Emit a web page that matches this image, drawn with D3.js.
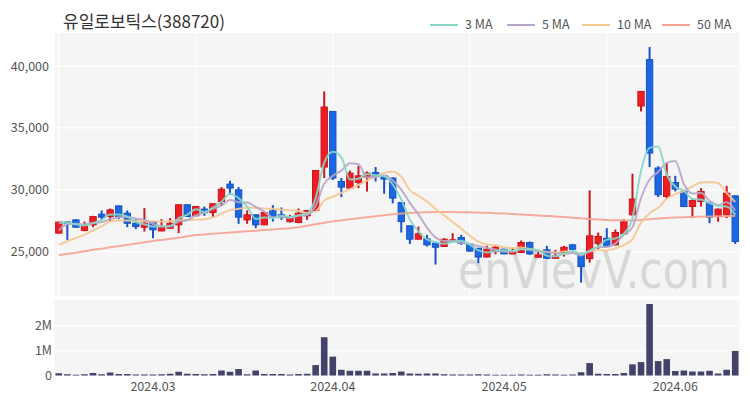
<!DOCTYPE html>
<html>
<head>
<meta charset="UTF-8">
<title>유일로보틱스(388720)</title>
<script src="https://d3js.org/d3.v7.min.js"></script>
<style>
    body { margin: 0; background: #fff; }
    svg text { font-family: "Noto Sans CJK KR", "Noto Sans", sans-serif; }
    .axis text { fill: #555; font-size: 12.5px; }
    .axis path, .axis line { display: none; }
    .grid line { stroke: #fff; stroke-width: 1.2px; }
    .legend text { fill: #555; font-size: 12.5px; }
</style>
</head>
<body>
<div id="chart"></div>
<script>
// trading days shown
const dates = [
  "2024-02-15","2024-02-16","2024-02-19","2024-02-20","2024-02-21","2024-02-22","2024-02-23","2024-02-26","2024-02-27","2024-02-28",
  "2024-02-29","2024-03-04","2024-03-05","2024-03-06","2024-03-07","2024-03-08","2024-03-11","2024-03-12","2024-03-13","2024-03-14",
  "2024-03-15","2024-03-18","2024-03-19","2024-03-20","2024-03-21","2024-03-22","2024-03-25","2024-03-26","2024-03-27","2024-03-28",
  "2024-03-29","2024-04-01","2024-04-02","2024-04-03","2024-04-04","2024-04-05","2024-04-08","2024-04-09","2024-04-11","2024-04-12",
  "2024-04-15","2024-04-16","2024-04-17","2024-04-18","2024-04-19","2024-04-22","2024-04-23","2024-04-24","2024-04-25","2024-04-26",
  "2024-04-29","2024-04-30","2024-05-02","2024-05-03","2024-05-07","2024-05-08","2024-05-09","2024-05-10","2024-05-13","2024-05-14",
  "2024-05-16","2024-05-17","2024-05-20","2024-05-21","2024-05-22","2024-05-23","2024-05-24","2024-05-27","2024-05-28","2024-05-29",
  "2024-05-30","2024-05-31","2024-06-03","2024-06-04","2024-06-05","2024-06-07","2024-06-10","2024-06-11","2024-06-12","2024-06-13"
];
const opens = [
  26500,27400,27570,26710,27170,28030,27840,28700,28110,27300,
  26980,27430,26680,26900,27170,28790,27900,28440,28160,29050,
  30460,30000,27570,27980,27170,28300,27980,27430,27360,27900,
  28330,31840,36330,30670,30140,30590,31030,31400,31130,30950,
  28970,27090,26010,26040,25690,25420,25820,26140,25600,25280,
  24570,25010,25200,24820,24930,25740,24550,25150,24470,24930,
  25550,24870,24440,25650,26090,25550,26440,27980,36770,40520,
  31760,29460,30590,29860,28650,29050,28970,27840,27980,29510
];
const highs = [
  27420,27430,27620,27430,27900,28330,28490,28720,28330,27630,
  28520,27450,27630,27710,28800,28820,28700,28650,28880,30220,
  30730,30220,28340,28000,28200,28760,28570,27980,28490,28350,
  31600,37950,36350,30950,31560,31940,31480,31840,31150,31000,
  29000,27100,27030,26360,25700,26090,26500,26360,25650,25300,
  25470,25470,25250,25280,25900,25820,25010,25470,25150,25470,
  25630,24900,29950,26550,26900,26790,27630,31300,37970,41540,
  31900,32210,31130,29880,29250,30140,29000,28490,30320,29550
];
const lows = [
  26470,25950,26950,26650,26980,27570,27430,27630,26980,26820,
  26630,26090,26650,26820,26500,27800,27850,27900,27790,28700,
  29600,27250,27250,26900,27150,27430,27570,27360,27300,27570,
  28300,30950,30800,29410,30100,30140,29860,30670,29680,28900,
  26550,25630,26000,25420,23960,25400,25800,25550,25000,24070,
  24550,24790,24800,24800,24900,24740,24530,24390,24450,24600,
  25150,22500,24110,25230,25360,25500,26360,27900,36330,31840,
  29410,29250,29870,28600,27710,28650,27300,27420,27710,25630
];
const closes = [
  27390,27270,26980,27090,27840,27790,28380,27840,27300,27030,
  27300,26770,27030,27300,28790,27840,28650,28160,28870,30050,
  30140,27790,27980,27170,28160,27790,27790,27840,28110,28330,
  31560,36690,30950,30220,31350,31130,31350,31080,30870,29330,
  27430,26010,26440,25550,25360,26010,25960,25690,25050,24570,
  25200,25360,24820,25010,25740,24820,24740,24470,24660,25360,
  25200,23800,26280,26230,25420,26550,27430,29250,37950,32970,
  29600,31080,30060,28650,29130,29860,27790,28440,29730,25820
];
const volumes = [
  90000,50000,30000,50000,100000,50000,120000,60000,60000,40000,
  40000,40000,50000,70000,150000,70000,60000,50000,60000,200000,
  150000,260000,50000,200000,60000,60000,60000,40000,60000,70000,
  420000,1540000,760000,230000,190000,190000,190000,80000,80000,100000,
  160000,80000,70000,80000,80000,50000,40000,40000,40000,50000,
  40000,30000,30000,30000,40000,30000,30000,50000,40000,30000,
  40000,130000,500000,70000,60000,60000,100000,450000,540000,2880000,
  580000,660000,180000,200000,160000,160000,190000,80000,230000,990000
];
// closes of the 9 sessions before the first one shown (for the short moving averages)
const priorCloses = [24300,24400,24350,24450,24500,24550,26900,27300,27350];
// 50 day average as drawn
const ma50 = [
  24720,24820,24920,25030,25150,25240,25350,25450,25550,25660,
  25760,25870,25950,26040,26130,26240,26340,26390,26440,26500,
  26550,26600,26650,26700,26750,26800,26850,26900,26970,27090,
  27210,27330,27450,27530,27630,27710,27790,27870,27950,28020,
  28080,28130,28160,28180,28200,28200,28200,28190,28180,28160,
  28140,28110,28080,28050,28010,27970,27930,27890,27850,27800,
  27750,27700,27650,27600,27560,27540,27520,27530,27570,27630,
  27680,27720,27760,27790,27810,27830,27850,27860,27880,27900
];
const maNames = ["3 MA", "5 MA", "10 MA", "50 MA"];
const maColors = ["#86d6c6", "#b8a6c8", "#f4c892", "#f6a394"];
const priceTicks = [25000, 30000, 35000, 40000];
const volumeTicks = [0, 1000000, 2000000];
const volumeLabels = ["0", "1M", "2M"];
const monthTicks = ["2024-03-04", "2024-04-02", "2024-05-02", "2024-06-03"];
const monthLabels = ["2024.03", "2024.04", "2024.05", "2024.06"];

const width = 750, height = 400;
const left = 54.5, right = 739.5;
const priceTop = 33, priceBottom = 296;
const volTop = 300, volBottom = 376;

const svg = d3.select("#chart").append("svg")
    .attr("width", width)
    .attr("height", height);

const x = d3.scaleBand().domain(dates).range([left, right]).padding(0);
const cx = d => x(d) + x.bandwidth() / 2;
const yP = d3.scaleLinear().domain([21420, 42670]).range([priceBottom, priceTop]);
const yV = d3.scaleLinear().domain([0, 3040000]).range([volBottom - 0.5, volTop]);

// panel backgrounds
svg.append("rect").attr("x", left).attr("y", priceTop)
    .attr("width", right - left).attr("height", priceBottom - priceTop).attr("fill", "#f5f5f6");
svg.append("rect").attr("x", left).attr("y", volTop)
    .attr("width", right - left).attr("height", volBottom - volTop).attr("fill", "#f5f5f6");

// grid
const gridDates = dates.filter((d, i) => i % 16 === 0);
svg.append("g").attr("class", "grid")
    .selectAll("line").data(gridDates).join("line")
    .attr("x1", cx).attr("x2", cx)
    .attr("y1", priceTop).attr("y2", priceBottom);
svg.append("g").attr("class", "grid")
    .selectAll("line").data(priceTicks).join("line")
    .attr("x1", left).attr("x2", right)
    .attr("y1", d => yP(d)).attr("y2", d => yP(d));
svg.append("g").attr("class", "grid")
    .selectAll("line").data(volumeTicks.slice(1)).join("line")
    .attr("x1", left).attr("x2", right)
    .attr("y1", d => yV(d)).attr("y2", d => yV(d));

// watermark
svg.append("text")
    .attr("x", 458).attr("y", 288)
    .attr("textLength", 272).attr("lengthAdjust", "spacingAndGlyphs")
    .style("font-family", "'DejaVu Sans', sans-serif")
    .style("font-size", "51px")
    .attr("fill", "#d2d2d2")
    .attr("opacity", 0.85)
    .text("enVievV.com");

// axes
svg.append("g").attr("class", "axis")
    .attr("transform", `translate(${left - 0.5},0)`)
    .call(d3.axisLeft(yP).tickValues(priceTicks).tickFormat(d3.format(",")).tickSize(0).tickPadding(5));
svg.append("g").attr("class", "axis")
    .attr("transform", `translate(${left - 0.5},0)`)
    .call(d3.axisLeft(yV).tickValues(volumeTicks).tickFormat((d, i) => volumeLabels[i]).tickSize(0).tickPadding(2));
svg.append("g").attr("class", "axis")
    .attr("transform", `translate(0,${volBottom})`)
    .call(d3.axisBottom(x).tickValues(monthTicks).tickFormat((d, i) => monthLabels[i]).tickSize(0).tickPadding(6));

// candles
const up = "#ef1c24", upEdge = "#c8161c";
const down = "#1a66e3", downEdge = "#1552c2";
const idx = d3.range(dates.length);
const bodyW = x.bandwidth() * 0.74;

const candle = svg.append("g").selectAll("g").data(idx).join("g");
candle.append("line")
    .attr("x1", i => cx(dates[i])).attr("x2", i => cx(dates[i]))
    .attr("y1", i => yP(highs[i])).attr("y2", i => yP(lows[i]))
    .attr("stroke", i => closes[i] >= opens[i] ? upEdge : downEdge)
    .attr("stroke-width", 2);
candle.append("rect")
    .attr("x", i => cx(dates[i]) - bodyW / 2)
    .attr("width", bodyW)
    .attr("y", i => yP(Math.max(opens[i], closes[i])))
    .attr("height", i => Math.max(1.5, Math.abs(yP(opens[i]) - yP(closes[i]))))
    .attr("fill", i => closes[i] >= opens[i] ? up : down)
    .attr("stroke", i => closes[i] >= opens[i] ? upEdge : downEdge)
    .attr("stroke-width", 1);

// volume
svg.append("g").selectAll("rect").data(idx).join("rect")
    .attr("x", i => cx(dates[i]) - 3.3)
    .attr("width", 6.6)
    .attr("y", i => yV(volumes[i]))
    .attr("height", i => yV(0) - yV(volumes[i]))
    .attr("fill", "#42426a");

// moving averages
const allCloses = priorCloses.concat(closes);
const off = priorCloses.length;
function movingAvg(n) {
    return idx.map(i => d3.mean(allCloses.slice(i + off - n + 1, i + off + 1)));
}
const maSeries = [movingAvg(3), movingAvg(5), movingAvg(10), ma50];
const line = d3.line()
    .x((d, i) => cx(dates[i]))
    .y(d => yP(d))
    .curve(d3.curveMonotoneX);
// 50 first so the short ones sit on top
[3, 2, 1, 0].forEach(k => {
    svg.append("path")
        .datum(maSeries[k])
        .attr("d", line)
        .attr("fill", "none")
        .attr("stroke", maColors[k])
        .attr("stroke-width", 2)
        .attr("opacity", 0.9);
});

// title
svg.append("text")
    .attr("x", 63).attr("y", 28)
    .style("font-size", "17px")
    .attr("fill", "#333")
    .text("유일로보틱스(388720)");

// legend
const legendX = [430, 507, 582, 662];
const legend = svg.append("g").attr("class", "legend")
    .selectAll("g").data(maNames).join("g")
    .attr("transform", (d, i) => `translate(${legendX[i]},25)`);
legend.append("line")
    .attr("x1", 0).attr("x2", 28)
    .attr("stroke", (d, i) => maColors[i])
    .attr("stroke-width", 2);
legend.append("text")
    .attr("x", 35).attr("dy", "0.35em")
    .text(d => d);
</script>
</body>
</html>
